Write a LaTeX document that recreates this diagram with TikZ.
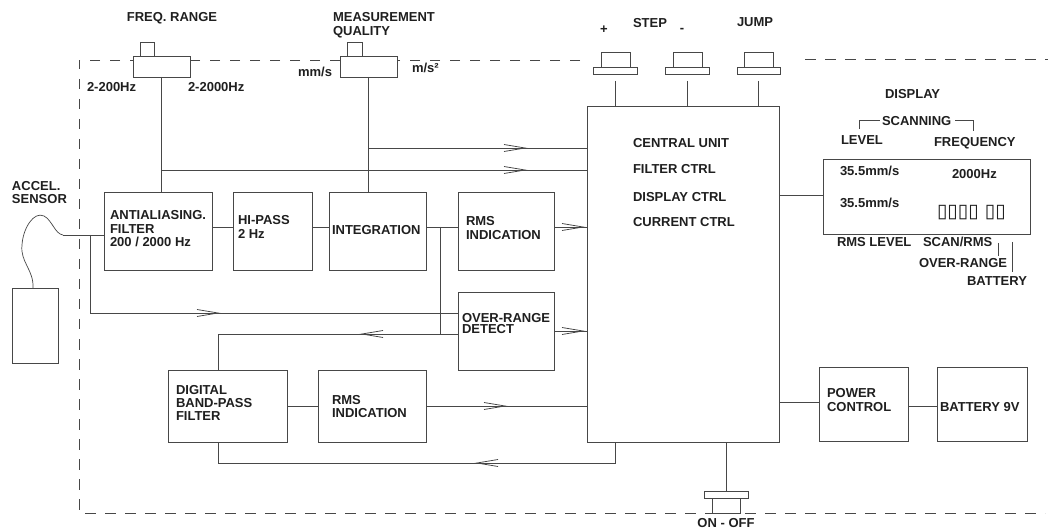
\documentclass[tikz,border=0pt]{standalone}
\usepackage{fontspec}
\setmainfont{Liberation Sans}
\newfontfamily\dejavu{DejaVu Sans}
\usetikzlibrary{decorations.markings}
\begin{document}
\begin{tikzpicture}[x=1pt,y=-1pt,
  ln/.style={draw=black!72,line width=0.9pt},
  box/.style={ln,fill=white,inner sep=0pt,outer sep=0pt,rectangle},
  txt/.style={inner sep=0pt,outer sep=0pt,text=black!88,font=\fontsize{13}{13}\selectfont\bfseries,anchor=base west},
  chev/.style={postaction={decorate,decoration={markings,mark=at position #1 with {\draw[black!72,line width=0.8pt] (-21pt,3.5pt) -- (0pt,0pt) -- (-21pt,-3.5pt);}}}},
  dsh/.style={draw=black!72,line width=0.9pt,dash pattern=on 10.5pt off 9.5pt},
]
\useasboundingbox (0,0) rectangle (1060,529);
% dashed enclosure
\draw[dsh] (580,60) -- (79,60) -- (79,513) -- (1045,513);
\draw[dsh] (805,59) -- (1048,59);

% helper coordinates
\coordinate (c148) at (0,148);
\coordinate (c170) at (0,170);
\coordinate (c227) at (0,227);
\coordinate (c334) at (0,334);
\coordinate (c195) at (0,195);
\coordinate (c402) at (0,402);
\coordinate (c406) at (0,406);
\coordinate (fbx) at (218,0);

% main blocks
\node[box,minimum width=108pt,minimum height=78pt] (aa) at (158,231) {};
\node[box,minimum width=79pt,minimum height=78pt] (hp) at (272.5,231) {};
\node[box,minimum width=97pt,minimum height=78pt] (integ) at (377.5,231) {};
\node[box,minimum width=96pt,minimum height=78pt] (rms1) at (506,231) {};
\node[box,minimum width=96pt,minimum height=78pt] (ovr) at (506,331) {};
\node[box,minimum width=119pt,minimum height=72pt] (dbp) at (227.5,406) {};
\node[box,minimum width=108pt,minimum height=72pt] (rms2) at (372,406) {};
\node[box,minimum width=192pt,minimum height=336pt] (cu) at (683,274) {};
\node[box,minimum width=207pt,minimum height=75pt] (disp) at (926.5,196.5) {};
\node[box,minimum width=89pt,minimum height=74pt] (pc) at (863.5,404) {};
\node[box,minimum width=90pt,minimum height=74pt] (bat) at (982,404) {};
\node[box,minimum width=46pt,minimum height=75pt] (sens) at (35,325.5) {};

% switches
\node[box,minimum width=57pt,minimum height=21pt] (frb) at (161.5,66.5) {};
\node[box,minimum width=14pt,minimum height=14pt] (frs) at (147,49) {};
\node[box,minimum width=57pt,minimum height=21pt] (mqb) at (368.5,66.5) {};
\node[box,minimum width=15pt,minimum height=14pt] (mqs) at (354.5,49) {};
\node[box,minimum width=29pt,minimum height=15pt] (b1u) at (615.5,59.5) {};
\node[box,minimum width=44pt,minimum height=7pt] (b1l) at (615,70.5) {};
\node[box,minimum width=29pt,minimum height=15pt] (b2u) at (687.5,59.5) {};
\node[box,minimum width=44pt,minimum height=7pt] (b2l) at (687,70.5) {};
\node[box,minimum width=29pt,minimum height=15pt] (b3u) at (758.5,59.5) {};
\node[box,minimum width=43pt,minimum height=7pt] (b3l) at (758.5,70.5) {};
\node[box,minimum width=44pt,minimum height=7pt] (onw) at (726,494.5) {};
\node[box,minimum width=28pt,minimum height=15pt] (onn) at (726,505.5) {};

% connectors from switches
\coordinate (frj) at (161.5,170);
\coordinate (mqj) at (368.5,148);
\draw[ln] (frb.south) -- (frb.south |- aa.north);
\draw[ln,chev=-62pt] (frj) -- (frj -| cu.west);
\draw[ln] (mqb.south) -- (mqb.south |- integ.north);
\draw[ln,chev=156.5pt] (mqj) -- (mqj -| cu.west);
\coordinate (b1s) at (615,81);
\coordinate (b2s) at (687,81);
\coordinate (b3s) at (758,81);
\draw[ln] (b1s) -- (b1s |- cu.north);
\draw[ln] (b2s) -- (b2s |- cu.north);
\draw[ln] (b3s) -- (b3s |- cu.north);
\draw[ln] (onw.north |- cu.south) -- (onw.north);

% sensor cable
\coordinate (cab0) at (33,288);
\coordinate (cab1) at (63,235);
\draw[ln,line width=0.7pt] (cab0) .. controls (34,270) and (20,262) .. (22,245)
  .. controls (23,228) and (34,211) .. (44,216) .. controls (52,220) and (55,234) .. (cab1);
\draw[ln] (cab1) -- (aa.west |- cab1);
\coordinate (br1) at (90,235);
\coordinate (br2) at (90,313);
\draw[ln,chev=206pt] (br1) -- (br2) -- (br2 -| ovr.west);

% signal chain
\draw[ln] (aa.east |- c227) -- (hp.west |- c227);
\draw[ln] (hp.east |- c227) -- (integ.west |- c227);
\draw[ln] (integ.east |- c227) -- (rms1.west |- c227);
\draw[ln,chev=-4pt] (rms1.east |- c227) -- (cu.west |- c227);
\coordinate (ij) at (440,227);
\draw[ln] (ij) -- (ij |- c334);
\draw[ln,chev=96pt] (ovr.west |- c334) -- (fbx |- c334) -- (fbx |- dbp.north);
\draw[ln,chev=-4pt] (ovr.east) -- (ovr.east -| cu.west);
\draw[ln] (dbp.east) -- (rms2.west);
\draw[ln,chev=79pt] (rms2.east) -- (rms2.east -| cu.west);
\coordinate (fb2) at (615,463);
\draw[ln,chev=159pt] (fb2 |- cu.south) -- (fb2) -- (fb2 -| fbx) -- (fbx |- dbp.south);
\draw[ln] (cu.east |- c195) -- (disp.west |- c195);
\draw[ln] (cu.east |- c402) -- (pc.west |- c402);
\draw[ln] (pc.east |- c406) -- (bat.west |- c406);

% display brackets and leads
\coordinate (bl0) at (859,129);
\coordinate (bl1) at (880,120);
\coordinate (br0) at (955,120);
\coordinate (brx) at (973,131);
\draw[ln,line width=0.7pt] (bl0) |- (bl1);
\draw[ln,line width=0.7pt] (br0) -| (brx);
\coordinate (ld1a) at (998,243);
\coordinate (ld1b) at (998,256);
\coordinate (ld2a) at (1012,242);
\coordinate (ld2b) at (1012,272);
\draw[ln,line width=0.7pt] (ld1a) -- (ld1b);
\draw[ln,line width=0.7pt] (ld2a) -- (ld2b);

% texts
\node[txt,anchor=base] (tfr) at (172,21.6) {FREQ. RANGE};
\node[txt] (t2a) at (87,91.6) {2-200Hz};
\node[txt] (t2b) at (188,91.6) {2-2000Hz};
\node[txt] (tmq1) at (333,21.6) {MEASUREMENT};
\node[txt] (tmq2) at (333,35.6) {QUALITY};
\node[txt,anchor=base east] (tmm) at (332,76.5) {mm/s};
\node[txt] (tms) at (412,72.5) {m/s²};
\node[txt,anchor=base] (tplus) at (604,33.4) {+};
\node[txt] (tstep) at (633,27.6) {STEP};
\node[txt,anchor=base] (tminus) at (682,33) {-};
\node[txt] (tjump) at (737,26.6) {JUMP};
\node[txt] (tcu1) at (633,147.6) {CENTRAL UNIT};
\node[txt] (tcu2) at (633,173.6) {FILTER CTRL};
\node[txt] (tcu3) at (633,201.6) {DISPLAY CTRL};
\node[txt] (tcu4) at (633,226.6) {CURRENT CTRL};
\node[txt] (tdisp) at (885,98.6) {DISPLAY};
\node[txt] (tscan) at (882,125.6) {SCANNING};
\node[txt] (tlev) at (841,144.6) {LEVEL};
\node[txt] (tfreq) at (934,147) {FREQUENCY};
\node[txt] (tv1) at (840,175.3) {35.5mm/s};
\node[txt] (tv2) at (840,207.3) {35.5mm/s};
\node[txt] (thz) at (952,179) {2000Hz};
\node[txt,font=\dejavu\fontsize{19}{19}\selectfont] (tseg) at (937,217.5) {▯▯▯▯ ▯▯};
\node[txt] (trms) at (837,246.7) {RMS LEVEL};
\node[txt] (tscr) at (923,246.7) {SCAN/RMS};
\node[txt] (tovr) at (919,268) {OVER-RANGE};
\node[txt] (tbat) at (967,285.7) {BATTERY};
\node[txt] (tac1) at (12,190.3) {ACCEL.};
\node[txt] (tac2) at (12,203.8) {SENSOR};
\node[txt] (taa1) at (110,220) {ANTIALIASING.};
\node[txt] (taa2) at (110,233.3) {FILTER};
\node[txt] (taa3) at (110,246.3) {200 / 2000 Hz};
\node[txt] (thp1) at (238,225) {HI-PASS};
\node[txt] (thp2) at (238,238.3) {2 Hz};
\node[txt] (tint) at (332,235) {INTEGRATION};
\node[txt] (tr11) at (466,226) {RMS};
\node[txt] (tr12) at (466,240) {INDICATION};
\node[txt] (tor1) at (462,322.3) {OVER-RANGE};
\node[txt] (tor2) at (462,334) {DETECT};
\node[txt] (tdb1) at (176,394) {DIGITAL};
\node[txt] (tdb2) at (176,407.3) {BAND-PASS};
\node[txt] (tdb3) at (176,420) {FILTER};
\node[txt] (tr21) at (332,404.3) {RMS};
\node[txt] (tr22) at (332,417.3) {INDICATION};
\node[txt] (tpc1) at (827,397.7) {POWER};
\node[txt] (tpc2) at (827,411) {CONTROL};
\node[txt] (tbat9) at (940,411.7) {BATTERY 9V};
\node[txt,anchor=base] (ton) at (726,527.3) {ON - OFF};
\end{tikzpicture}
\end{document}
